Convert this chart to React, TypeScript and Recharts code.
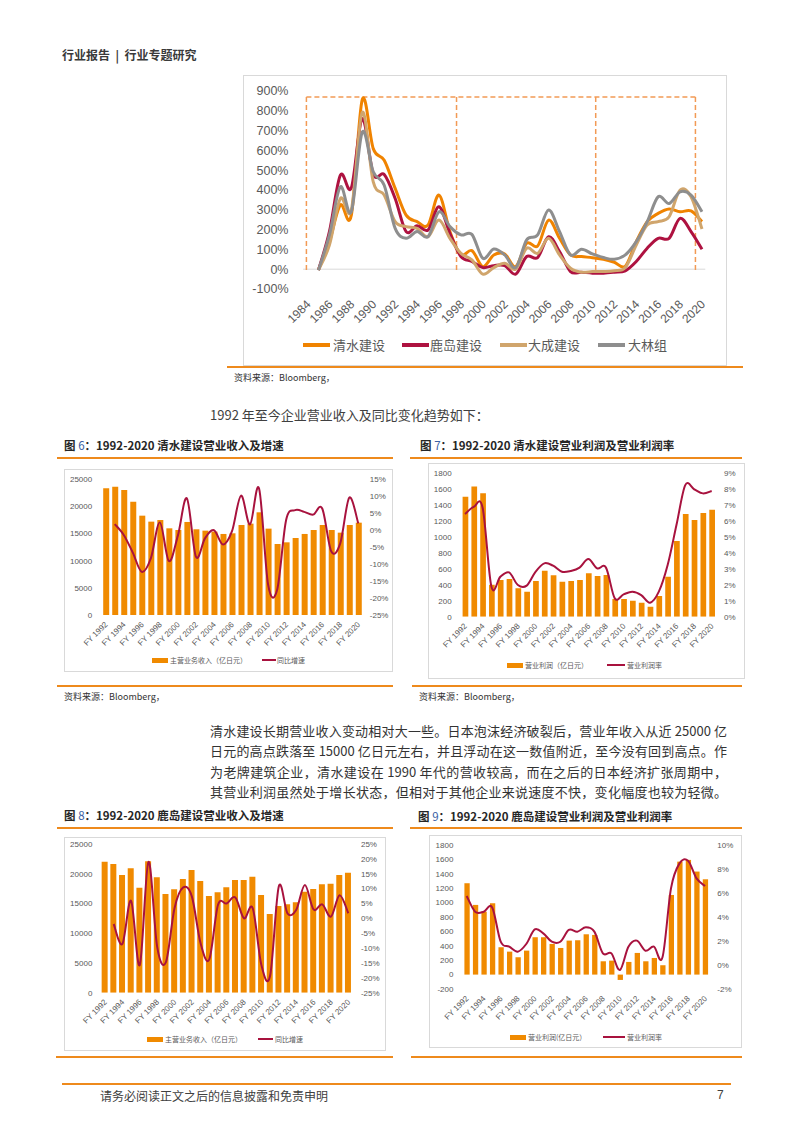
import React from "react";
import { ComposedChart, LineChart, Line, Bar, XAxis, YAxis, ReferenceLine } from "recharts";

const LATIN = "'Liberation Sans', 'Noto Sans CJK SC', sans-serif";
const CJK = "'Noto Sans CJK SC', 'Liberation Sans', sans-serif";
const ORANGE = "#F08A00";
const CRIMSON = "#A8123E";
const AXIS_TEXT = "#595959";
const RULE = "#EE8A1C";

// ---------- Top chart: index of four contractors ----------
const topYears = [1985, 1986, 1987, 1988, 1989, 1990, 1991, 1992, 1993, 1994, 1995, 1996, 1997, 1998, 1999, 2000, 2001, 2002, 2003, 2004, 2005, 2006, 2007, 2008, 2009, 2010, 2011, 2012, 2013, 2014, 2015, 2016, 2017, 2018, 2019, 2020];
const shimizuIdx = [-3, 140, 324, 273, 857, 609, 550, 408, 273, 240, 223, 374, 190, 72, 94, 13, 72, 77, 13, 131, 117, 248, 156, 72, 64, 58, 50, 35, 15, 139, 240, 282, 304, 290, 294, 240];
const kajimaIdx = [-5, 190, 475, 411, 760, 480, 478, 357, 190, 220, 198, 315, 180, 64, 39, 8, 18, 18, -25, 64, 59, 164, 89, -12, -15, -20, -20, -15, -8, 39, 106, 156, 156, 257, 190, 101];
const taiseiIdx = [-5, 122, 357, 299, 793, 441, 374, 240, 215, 206, 164, 248, 156, 80, 47, -25, 8, 30, 0, 106, 80, 156, 72, 5, -15, -12, -12, -8, 8, 122, 223, 240, 265, 400, 366, 203];
const obayashiIdx = [-5, 173, 416, 290, 693, 492, 424, 206, 156, 190, 164, 290, 215, 173, 176, 55, 102, 72, 8, 148, 173, 299, 190, 72, 101, 77, 59, 50, 72, 139, 240, 366, 332, 391, 374, 290];
const topXTicks = [1984, 1986, 1988, 1990, 1992, 1994, 1996, 1998, 2000, 2002, 2004, 2006, 2008, 2010, 2012, 2014, 2016, 2018, 2020];
const topYTicks = [-100, 0, 100, 200, 300, 400, 500, 600, 700, 800, 900];
const topSeriesNames = ["清水建设", "鹿岛建设", "大成建设", "大林组"];
const topColors = ["#F08300", "#AE1240", "#D0A56C", "#8E8E8E"];
const boxXs = [1983.9, 1997.6, 2010.3, 2019.4];
const boxTop = 870;

// ---------- Bar + line charts ----------
const fyLabels = ["FY 1992", "FY 1993", "FY 1994", "FY 1995", "FY 1996", "FY 1997", "FY 1998", "FY 1999", "FY 2000", "FY 2001", "FY 2002", "FY 2003", "FY 2004", "FY 2005", "FY 2006", "FY 2007", "FY 2008", "FY 2009", "FY 2010", "FY 2011", "FY 2012", "FY 2013", "FY 2014", "FY 2015", "FY 2016", "FY 2017", "FY 2018", "FY 2019", "FY 2020"];

const shimizuRevenue = [23340, 23650, 23030, 20880, 18300, 17200, 17500, 15970, 15660, 17140, 15790, 15540, 15360, 14930, 15050, 16580, 16830, 18920, 15910, 13080, 13390, 14190, 14930, 15660, 16580, 15660, 15170, 16580, 17010];
const shimizuGrowth = [null, 1.8, -1.4, -6.6, -12.3, -8.3, 2.3, -9.1, -1.6, 9.4, -7.8, -2.4, 0.0, -4.2, -0.3, 10.2, 1.7, 12.3, -16.0, -17.6, 3.0, 5.9, 5.4, 4.6, 6.4, -6.2, -3.9, 9.6, 2.0];

const shimizuProfit = [1507, 1633, 1549, 400, 460, 473, 356, 314, 448, 578, 519, 440, 448, 460, 544, 511, 523, 222, 222, 201, 176, 126, 260, 502, 950, 1289, 1214, 1302, 1344];
const shimizuMargin = [6.44, 6.9, 6.84, 1.88, 2.5, 2.78, 1.99, 1.95, 2.82, 3.35, 3.2, 2.82, 2.87, 3.08, 3.62, 3.03, 3.08, 1.15, 1.4, 1.57, 1.36, 0.88, 1.57, 3.24, 5.75, 8.26, 8.0, 7.74, 7.89];

const kajimaRevenue = [22030, 21640, 19790, 20910, 17660, 22100, 19390, 16590, 17380, 19110, 20630, 18780, 16250, 16870, 17710, 18950, 18950, 19500, 16420, 13230, 14570, 14850, 15190, 16980, 17430, 18220, 18330, 19790, 20180];
const kajimaGrowth = [null, -1.9, -8.6, 5.9, -15.7, 19.0, -9.5, -14.8, 3.4, 10.4, 7.3, -8.4, -13.8, 4.5, 5.0, 7.0, 0.0, 3.4, -15.7, -19.3, 10.7, 1.7, 2.8, 11.2, 3.0, 4.7, 0.6, 7.8, 1.7];

const kajimaProfit = [1269, 968, 875, 991, 380, 319, 241, 333, 519, 519, 426, 370, 472, 477, 560, 551, 185, 194, -74, 176, 301, 185, 231, 130, 1106, 1569, 1593, 1431, 1324];
const kajimaMargin = [5.75, 4.44, 4.44, 4.8, 1.94, 1.53, 1.11, 1.75, 2.97, 2.64, 1.94, 1.94, 2.92, 2.78, 3.14, 2.78, 0.97, 0.97, -0.42, 1.53, 2.03, 1.19, 1.53, 0.64, 6.39, 8.47, 8.69, 7.22, 6.58];

const revenueTicks = [0, 5000, 10000, 15000, 20000, 25000];
const growth6Ticks = [-25, -20, -15, -10, -5, 0, 5, 10, 15];
const growth8Ticks = [-25, -20, -15, -10, -5, 0, 5, 10, 15, 20, 25];
const profit7Ticks = [0, 200, 400, 600, 800, 1000, 1200, 1400, 1600, 1800];
const margin7Ticks = [0, 1, 2, 3, 4, 5, 6, 7, 8, 9];
const profit9Ticks = [-200, 0, 200, 400, 600, 800, 1000, 1200, 1400, 1600, 1800];
const margin9Ticks = [-2, 0, 2, 4, 6, 8, 10];

// Excel-like smoothed line (cubic bezier through the points)
function excelCurve(context: any) {
  let pts: number[][] = [];
  return {
    areaStart() {},
    areaEnd() {},
    lineStart() {
      pts = [];
    },
    lineEnd() {
      const n = pts.length;
      if (!n) return;
      context.moveTo(pts[0][0], pts[0][1]);
      const t = 1 / 6;
      for (let i = 0; i < n - 1; i++) {
        const p0 = pts[i - 1] || pts[i];
        const p1 = pts[i];
        const p2 = pts[i + 1];
        const p3 = pts[i + 2] || p2;
        context.bezierCurveTo(
          p1[0] + (p2[0] - p0[0]) * t,
          p1[1] + (p2[1] - p0[1]) * t,
          p2[0] - (p3[0] - p1[0]) * t,
          p2[1] - (p3[1] - p1[1]) * t,
          p2[0],
          p2[1]
        );
      }
    },
    point(x: number, y: number) {
      pts.push([+x, +y]);
    },
  };
}

function makeRotTick(fontSize: number, dx: number, dy: number) {
  return (props: any) => {
    const { x, y, payload } = props;
    return (
      <g transform={`translate(${x + dx},${y + dy})`}>
        <text x={0} y={0} dy="0.35em" textAnchor="end" transform="rotate(-45)" fontSize={fontSize} fill={AXIS_TEXT} fontFamily={LATIN}>
          {String(payload.value)}
        </text>
      </g>
    );
  };
}

const abs = (left: number, top: number, extra: React.CSSProperties = {}): React.CSSProperties => ({
  position: "absolute",
  left,
  top,
  ...extra,
});

function Rule({ x1, x2, y, h = 1.5 }: { x1: number; x2: number; y: number; h?: number }) {
  return <div style={abs(x1, y - h / 2, { width: x2 - x1, height: h, background: RULE })} />;
}

function TopChart() {
  const data = topYears.map((year, i) => ({
    year,
    a: shimizuIdx[i],
    b: kajimaIdx[i],
    c: taiseiIdx[i],
    d: obayashiIdx[i],
  }));
  const W = 484;
  const H = 291;
  const dash = { stroke: "#F29A55", strokeWidth: 1.5, strokeDasharray: "5 3" };
  return (
    <div style={abs(243, 75, { width: W, height: H, outline: "1px solid #D9D9D9", outlineOffset: -1, background: "#fff" })}>
      <LineChart width={W} height={H} data={data} margin={{ top: 16, right: 25, bottom: 0, left: 0 }}>
        <XAxis
          dataKey="year"
          type="number"
          domain={[1984, 2020]}
          ticks={topXTicks}
          interval={0}
          axisLine={false}
          tickLine={false}
          tickSize={0}
          tickMargin={0}
          height={77}
          tick={makeRotTick(12, 1, 13)}
        />
        <YAxis
          type="number"
          domain={[-100, 900]}
          ticks={topYTicks}
          interval={0}
          axisLine={false}
          tickLine={false}
          tickSize={0}
          tickMargin={19}
          width={64.5}
          tick={{ fontSize: 12.5, fill: AXIS_TEXT, fontFamily: LATIN }}
          tickFormatter={(v: number) => `${v}%`}
        />
        <ReferenceLine segment={[{ x: 1983.6, y: 0 }, { x: 2020.3, y: 0 }]} stroke="#D9D9D9" strokeWidth={1} ifOverflow="visible" />
        <ReferenceLine segment={[{ x: boxXs[0], y: boxTop }, { x: boxXs[3], y: boxTop }]} {...dash} ifOverflow="visible" />
        {boxXs.map((bx) => (
          <ReferenceLine key={bx} segment={[{ x: bx, y: boxTop }, { x: bx, y: -5 }]} {...dash} ifOverflow="visible" />
        ))}
        <Line dataKey="a" stroke={topColors[0]} strokeWidth={3} dot={false} type={excelCurve as any} isAnimationActive={false} />
        <Line dataKey="b" stroke={topColors[1]} strokeWidth={3} dot={false} type={excelCurve as any} isAnimationActive={false} />
        <Line dataKey="c" stroke={topColors[2]} strokeWidth={3} dot={false} type={excelCurve as any} isAnimationActive={false} />
        <Line dataKey="d" stroke={topColors[3]} strokeWidth={3} dot={false} type={excelCurve as any} isAnimationActive={false} />
      </LineChart>
    </div>
  );
}

function TopLegend() {
  const items = [
    { sx: 303, tx: 333 },
    { sx: 402, tx: 430 },
    { sx: 500, tx: 528 },
    { sx: 598, tx: 628 },
  ];
  return (
    <>
      {items.map((it, i) => (
        <React.Fragment key={i}>
          <div style={abs(it.sx, 343, { width: 27, height: 3.5, background: topColors[i] })} />
          <div style={abs(it.tx, 336, { fontSize: 13, lineHeight: "18px", color: AXIS_TEXT, fontFamily: CJK, whiteSpace: "nowrap" })}>
            {topSeriesNames[i]}
          </div>
        </React.Fragment>
      ))}
    </>
  );
}

type BLProps = {
  left: number;
  top: number;
  width: number;
  height: number;
  plotLeft: number;
  plotRight: number;
  plotTop: number;
  plotBottom: number;
  bars: number[];
  line: (number | null)[];
  leftDomain: [number, number];
  leftTicks: number[];
  rightDomain: [number, number];
  rightTicks: number[];
  barSize: number;
  leftGap: number;
  rightGap: number;
  legend: { y: number; barX: number; barText: string; barTextX: number; lineX: number; lineW: number; lineText: string; lineTextX: number };
};

function BarLineChart(p: BLProps) {
  const data = fyLabels.map((label, i) => ({ label, bar: p.bars[i], line: p.line[i] }));
  const lg = p.legend;
  return (
    <>
      <div style={abs(p.left, p.top, { width: p.width, height: p.height, outline: "1px solid #D9D9D9", outlineOffset: -1, background: "#fff" })}>
        <ComposedChart width={p.width} height={p.height} data={data} margin={{ top: p.plotTop, right: 0, bottom: 0, left: 0 }} barCategoryGap={0}>
          <XAxis
            dataKey="label"
            type="category"
            interval={1}
            axisLine={false}
            tickLine={false}
            tickSize={0}
            tickMargin={0}
            height={p.height - p.plotBottom}
            tick={makeRotTick(8, 0.5, 8)}
          />
          <YAxis
            yAxisId="l"
            type="number"
            domain={p.leftDomain}
            ticks={p.leftTicks}
            interval={0}
            allowDataOverflow
            axisLine={false}
            tickLine={false}
            tickSize={0}
            tickMargin={p.leftGap}
            width={p.plotLeft}
            tick={{ fontSize: 8, fill: AXIS_TEXT, fontFamily: LATIN }}
          />
          <YAxis
            yAxisId="r"
            orientation="right"
            type="number"
            domain={p.rightDomain}
            ticks={p.rightTicks}
            interval={0}
            allowDataOverflow
            axisLine={false}
            tickLine={false}
            tickSize={0}
            tickMargin={p.rightGap}
            width={p.width - p.plotRight}
            tick={{ fontSize: 8, fill: AXIS_TEXT, fontFamily: LATIN }}
            tickFormatter={(v: number) => `${v}%`}
          />
          <Bar yAxisId="l" dataKey="bar" fill={ORANGE} barSize={p.barSize} isAnimationActive={false} />
          <Line yAxisId="r" dataKey="line" stroke={CRIMSON} strokeWidth={2} dot={false} type={excelCurve as any} isAnimationActive={false} />
        </ComposedChart>
      </div>
      <div style={abs(lg.barX, lg.y - 2.5, { width: 16, height: 5, background: ORANGE })} />
      <div style={abs(lg.barTextX, lg.y - 6, { fontSize: 7, lineHeight: "12px", color: AXIS_TEXT, fontFamily: CJK, whiteSpace: "nowrap" })}>{lg.barText}</div>
      <div style={abs(lg.lineX, lg.y - 1, { width: lg.lineW, height: 2, background: CRIMSON })} />
      <div style={abs(lg.lineTextX, lg.y - 6, { fontSize: 7, lineHeight: "12px", color: AXIS_TEXT, fontFamily: CJK, whiteSpace: "nowrap" })}>{lg.lineText}</div>
    </>
  );
}

function Title({ x, y, num, text }: { x: number; y: number; num: string; text: string }) {
  return (
    <div style={abs(x, y - 8, { fontSize: 11.5, lineHeight: "16px", fontWeight: 700, color: "#262626", fontFamily: CJK, whiteSpace: "nowrap" })}>
      图 <span style={{ color: "#3B62A5", fontWeight: 400 }}>{num}</span>：{text}
    </div>
  );
}

function Source({ x, y }: { x: number; y: number }) {
  return (
    <div style={abs(x, y - 6, { fontSize: 9, lineHeight: "12px", color: "#333", fontFamily: CJK, whiteSpace: "nowrap" })}>
      资料来源：Bloomberg，
    </div>
  );
}

const paragraphLines = [
  "清水建设长期营业收入变动相对大一些。日本泡沫经济破裂后，营业年收入从近 25000 亿",
  "日元的高点跌落至 15000 亿日元左右，并且浮动在这一数值附近，至今没有回到高点。作",
  "为老牌建筑企业，清水建设在 1990 年代的营收较高，而在之后的日本经济扩张周期中，",
  "其营业利润虽然处于增长状态，但相对于其他企业来说速度不快，变化幅度也较为轻微。",
];
const paragraphYs = [731, 751, 772, 792];

export default function App() {
  return (
    <div style={{ position: "absolute", left: 0, top: 0, width: 793, height: 1122, background: "#fff", overflow: "hidden", fontFamily: CJK }}>
      {/* header */}
      <div style={abs(62, 46, { fontSize: 12, lineHeight: "18px", fontWeight: 700, color: "#3A3A3A", whiteSpace: "pre" })}>
        {"行业报告  |  行业专题研究"}
      </div>

      {/* top chart */}
      <Rule x1={227} x2={743} y={367} />
      <TopChart />
      <TopLegend />
      <Source x={234} y={378} />

      <div style={abs(210, 406, { fontSize: 13, lineHeight: "18px", color: "#404040", whiteSpace: "nowrap" })}>
        1992 年至今企业营业收入及同比变化趋势如下：
      </div>

      {/* chart 6 */}
      <Title x={64} y={445} num="6" text="1992-2020 清水建设营业收入及增速" />
      <Rule x1={57} x2={393} y={458} />
      <BarLineChart
        left={64}
        top={469}
        width={329}
        height={203}
        plotLeft={37.2}
        plotRight={298.8}
        plotTop={10.3}
        plotBottom={146}
        bars={shimizuRevenue}
        line={shimizuGrowth}
        leftDomain={[0, 25000]}
        leftTicks={revenueTicks}
        rightDomain={[-25, 15]}
        rightTicks={growth6Ticks}
        barSize={6}
        leftGap={9}
        rightGap={7}
        legend={{ y: 660, barX: 152, barText: "主营业务收入（亿日元）", barTextX: 170, lineX: 262, lineW: 14, lineText: "同比增速", lineTextX: 277 }}
      />
      <Rule x1={57} x2={393} y={686} />
      <Source x={64} y={697} />

      {/* chart 7 */}
      <Title x={420} y={445} num="7" text="1992-2020 清水建设营业利润及营业利润率" />
      <Rule x1={410} x2={742} y={458} />
      <BarLineChart
        left={428}
        top={463}
        width={317}
        height={216}
        plotLeft={32.6}
        plotRight={288.1}
        plotTop={10.3}
        plotBottom={153.7}
        bars={shimizuProfit}
        line={shimizuMargin}
        leftDomain={[0, 1800]}
        leftTicks={profit7Ticks}
        rightDomain={[0, 9]}
        rightTicks={margin7Ticks}
        barSize={5.7}
        leftGap={9}
        rightGap={8}
        legend={{ y: 665, barX: 507, barText: "营业利润（亿日元）", barTextX: 525, lineX: 607, lineW: 18, lineText: "营业利润率", lineTextX: 627 }}
      />
      <Rule x1={412} x2={742} y={686} />
      <Source x={419} y={697} />

      {/* paragraph */}
      {paragraphLines.map((t, i) => (
        <div
          key={i}
          style={abs(210, paragraphYs[i] - 9, {
            width: 517,
            fontSize: 13,
            lineHeight: "18px",
            color: "#333",
            textAlign: "justify",
            textAlignLast: "justify",
            whiteSpace: "nowrap",
          })}
        >
          {t}
        </div>
      ))}

      {/* chart 8 */}
      <Title x={64} y={815} num="8" text="1992-2020 鹿岛建设营业收入及增速" />
      <Rule x1={57} x2={393} y={828} />
      <BarLineChart
        left={64}
        top={837}
        width={322}
        height={214}
        plotLeft={36.65}
        plotRight={288.65}
        plotTop={7}
        plotBottom={155.7}
        bars={kajimaRevenue}
        line={kajimaGrowth}
        leftDomain={[0, 25000]}
        leftTicks={revenueTicks}
        rightDomain={[-25, 25]}
        rightTicks={growth8Ticks}
        barSize={6}
        leftGap={8.3}
        rightGap={8.3}
        legend={{ y: 1039, barX: 147, barText: "主营业务收入（亿日元）", barTextX: 165, lineX: 258, lineW: 15, lineText: "同比增速", lineTextX: 275 }}
      />
      <Rule x1={56} x2={393} y={1057} />

      {/* chart 9 */}
      <Title x={418} y={816} num="9" text="1992-2020 鹿岛建设营业利润及营业利润率" />
      <Rule x1={410} x2={742} y={828} />
      <BarLineChart
        left={429}
        top={835}
        width={313}
        height={213}
        plotLeft={33.4}
        plotRight={280.3}
        plotTop={10}
        plotBottom={154}
        bars={kajimaProfit}
        line={kajimaMargin}
        leftDomain={[-200, 1800]}
        leftTicks={profit9Ticks}
        rightDomain={[-2, 10]}
        rightTicks={margin9Ticks}
        barSize={5.3}
        leftGap={9}
        rightGap={8}
        legend={{ y: 1037, barX: 510, barText: "营业利润(亿日元）", barTextX: 528, lineX: 603, lineW: 22, lineText: "营业利润率", lineTextX: 627 }}
      />
      <Rule x1={411} x2={742} y={1057} />

      {/* footer */}
      <Rule x1={62} x2={731} y={1084} h={2.5} />
      <div style={abs(100, 1087, { fontSize: 12, lineHeight: "17px", color: "#404040", whiteSpace: "nowrap" })}>
        请务必阅读正文之后的信息披露和免责申明
      </div>
      <div style={abs(717, 1087, { fontSize: 12, lineHeight: "17px", color: "#404040", fontFamily: LATIN })}>7</div>
    </div>
  );
}
